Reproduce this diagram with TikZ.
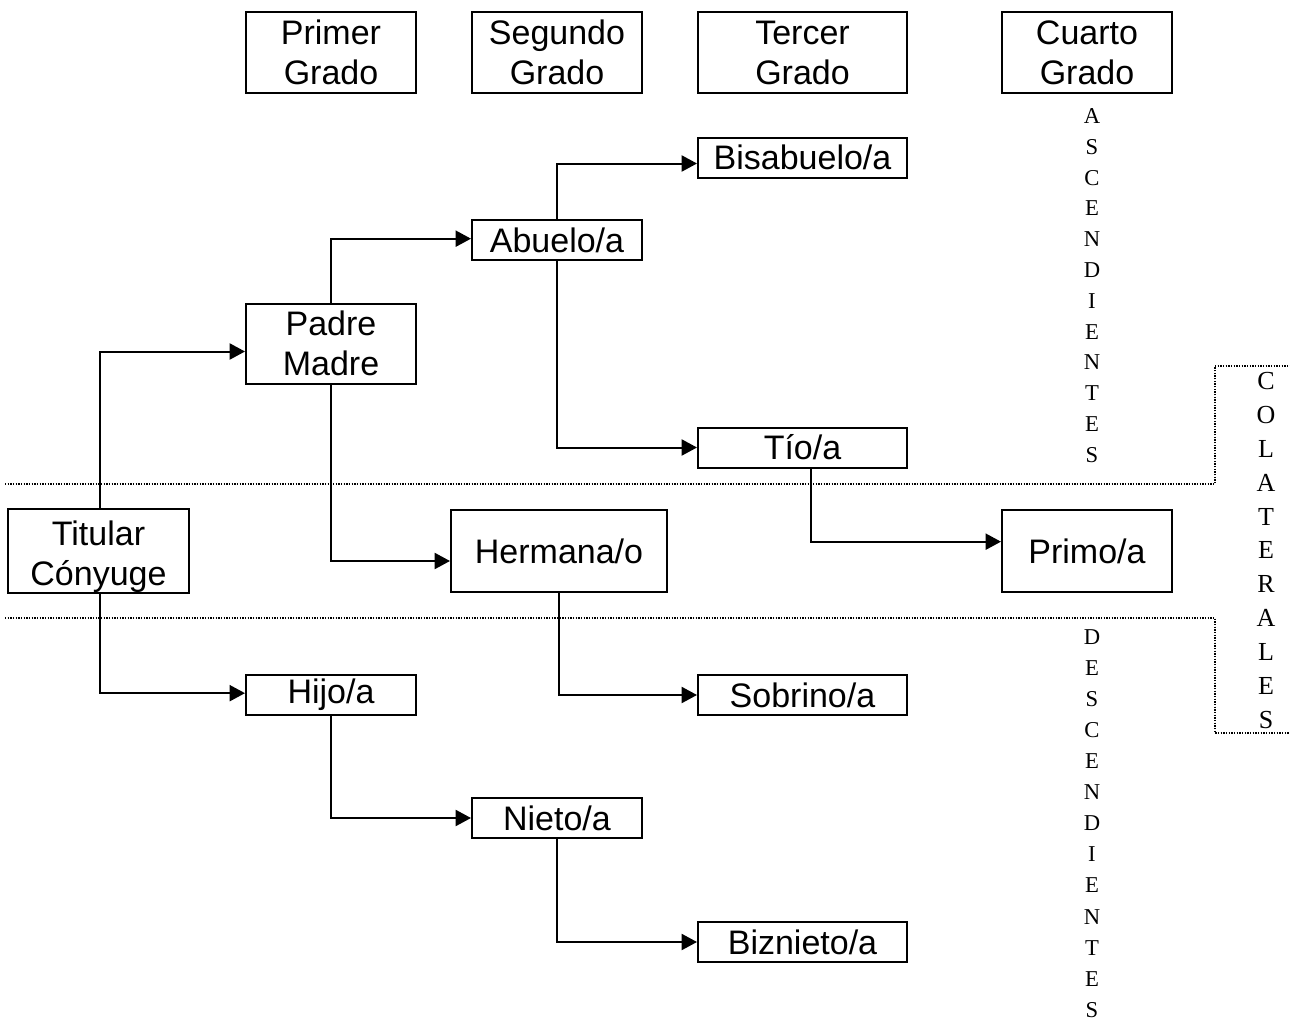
\documentclass[tikz,border=0pt]{standalone}
\usepackage{fontspec}
\setmainfont{Liberation Sans}
\newfontfamily\letrafont{Liberation Serif}
\usetikzlibrary{arrows.meta,calc}

\begin{document}
\begin{tikzpicture}[
    x=0.75pt, y=-0.75pt,
    box/.style={
      rectangle,
      draw=black,
      line width=1.5pt,
      align=center,
      inner sep=0pt,
      font={\fontsize{25.5}{30}\selectfont}
    },
    ancho/.style={minimum width=127.5pt},
    largo/.style={minimum width=156.75pt},
    alto/.style={minimum height=61pt},
    bajo/.style={minimum height=30pt},
    flecha/.style={-{Triangle[length=11.5pt,width=12pt]}, line width=1.5pt},
    vertical/.style={align=center, inner sep=0pt, font=\letrafont}
]
\useasboundingbox (0,0) rectangle (1290,1021);

%% Grados
\node [box, ancho, alto] (primer) at (331,52.5) {Primer\\Grado};
\node [box, ancho, alto] (segundo) at (557,52.5) {Segundo\\Grado};
\node [box, largo, alto] (tercer) at (802.5,52.5) {Tercer\\Grado};
\node [box, ancho, alto] (cuarto) at (1087,52.5) {Cuarto\\Grado};

%% Parientes
\node [box, largo, bajo] (bisabuelo) at (802.5,157.5) {Bisabuelo/a};
\node [box, ancho, bajo] (abuelo) at (557,240) {Abuelo/a};
\node [box, ancho, alto, minimum height=60pt] (padre) at (331,343.5) {Padre\\Madre};
\node [box, largo, bajo] (tio) at (802.5,447.5) {Tío/a};
\node [box, alto, minimum width=135.75pt, minimum height=61.5pt, text height=57pt] (titular) at (98.5,551) {Titular\\Cónyuge};
\node [box, alto, minimum width=162pt, minimum height=61.5pt] (hermana) at (559,551) {Hermana/o};
\node [box, ancho, alto, minimum height=61.5pt] (primo) at (1087,551) {Primo/a};
\node [box, ancho, bajo] (hijo) at (331,694.5) {Hijo/a};
\node [box, largo, bajo] (sobrino) at (802.5,695) {Sobrino/a};
\node [box, ancho, bajo] (nieto) at (557,818) {Nieto/a};
\node [box, largo, bajo] (biznieto) at (802.5,942) {Biznieto/a};

%% Columnas de letras
\node [vertical, font={\letrafont\fontsize{17}{23.1}\selectfont}] (ascend) at (1092,285.5)
  {A\\S\\C\\E\\N\\D\\I\\E\\N\\T\\E\\S};
\node [vertical, font={\letrafont\fontsize{19.5}{25.4}\selectfont}] (colat) at (1266,550.5)
  {C\\O\\L\\A\\T\\E\\R\\A\\L\\E\\S};
\node [vertical, font={\letrafont\fontsize{17}{23.3}\selectfont}] (descend) at (1092,823.5)
  {D\\E\\S\\C\\E\\N\\D\\I\\E\\N\\T\\E\\S};

%% Frame
\draw [densely dotted, line width=1pt] (5,484) -| (1215,366) -- (1290,366);
\draw [densely dotted, line width=1pt] (5,618) -| (1215,733) -- (1290,733);

%% Arrows
\draw [flecha] ([xshift=1pt]titular.north) |- ([yshift=-6pt]padre.west);
\draw [flecha] (padre.north) |- ([yshift=1pt]abuelo.west);
\draw [flecha] (padre.south) |- ([yshift=-7.5pt]hermana.west);
\draw [flecha] (abuelo.north) |- ([yshift=-4.5pt]bisabuelo.west);
\draw [flecha] (abuelo.south) |- (tio.west);
\draw [flecha] ([xshift=6pt]tio.south) |- ([yshift=7pt]primo.west);
\draw [flecha] (hermana.south) |- (sobrino.west);
\draw [flecha] ([xshift=1pt]titular.south) |- ([yshift=1pt]hijo.west);
\draw [flecha] (hijo.south) |- (nieto.west);
\draw [flecha] (nieto.south) |- (biznieto.west);

\end{tikzpicture}
\end{document}
